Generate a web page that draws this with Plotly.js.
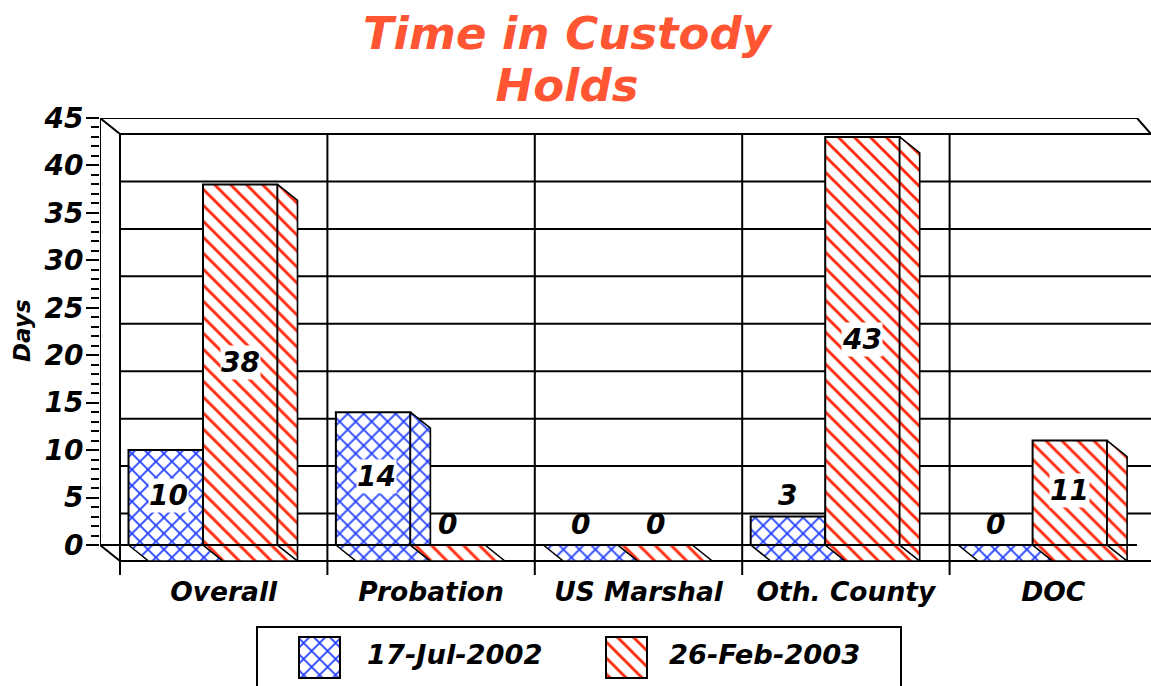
<!DOCTYPE html>
<html><head><meta charset="utf-8">
<script src="https://cdn.plot.ly/plotly-3.0.1.min.js"></script>
<style>html,body{margin:0;padding:0;background:#fff;overflow:hidden}#c{width:1151px;height:686px}</style>
</head><body><div id="c"></div>
<script>
const categories = ['Overall','Probation','US Marshal','Oth. County','DOC'];
const jul2002 = [10,14,0,3,0];
const feb2003 = [38,0,0,43,11];
const seriesNames = ['17-Jul-2002','26-Feb-2003'];
const yTicks = [0,5,10,15,20,25,30,35,40,45];
const yMinor = Array.from({length:46},(_,i)=>i).filter(v=>v%5);

const W=1151,H=686, GW=207.4, PXY=9.49;
const LEFT=100, WALL=120, RIGHT=1151, Y0=545, BOT=575;
const FF='"DejaVu Sans", sans-serif';
const BLUE='#1f3cff', RED='#ff2c10';
const gx=p=>(p-WALL)/GW;
const vy=p=>(Y0-p)/PXY;
const dX=20/GW, dY=16/PXY, inset=8.5/GW, bw=74.5/GW;
const pat=(s,c)=>({shape:s,fgcolor:c,bgcolor:'#fff',size:11.3,solidity:s==='x'?0.28:0.26,fillmode:'replace'});
const txt=(size)=>({family:FF,size:size,color:'#000',weight:700,style:'italic'});

const traces=[];
function bars(vals,off,color,shape,name){
  traces.push({type:'bar',name:name,x:vals.map((_,i)=>i+inset+off+bw/2),y:vals,width:vals.map(()=>bw),
    marker:{color:'#fff',pattern:pat(shape,color),line:{color:'#000',width:2}},hoverinfo:'skip',showlegend:false});
}
bars(jul2002,0,BLUE,'x',seriesNames[0]);
bars(feb2003,bw,RED,'\\',seriesNames[1]);

function poly(xs,ys,color,shape){
  traces.push({type:'scatter',mode:'lines',x:xs.concat(xs[0]),y:ys.concat(ys[0]),fill:'toself',fillcolor:'#fff',
    fillpattern:pat(shape,color),line:{color:'#000',width:1.6},hoverinfo:'skip',showlegend:false});
}
function floor(i,off,color,shape){
  const a=i+inset+off,b=a+bw;
  poly([a,b,b+dX,a+dX],[0,0,-dY,-dY],color,shape);
}
function side(i,off,v,color,shape){
  const b=i+inset+off+bw;
  poly([b,b+dX,b+dX,b],[v,v-dY,-dY,0],color,shape);
}
categories.forEach((_,i)=>{
  floor(i,0,BLUE,'x');
  if(jul2002[i]>feb2003[i]) side(i,0,jul2002[i],BLUE,'x');
  floor(i,bw,RED,'\\');
  if(feb2003[i]>0) side(i,bw,feb2003[i],RED,'\\');
});

function frame(xs,ys){
  traces.push({type:'scatter',mode:'lines',x:xs,y:ys,cliponaxis:false,line:{color:'#000',width:2},hoverinfo:'skip',showlegend:false});
}
const xL=gx(LEFT),xW=gx(WALL),xR=gx(RIGHT),xF=gx(1137);
frame([xL,xL],[0,45]);
frame([xL,xF,xR],[45,45,45-dY]);
frame([xL,xF],[0,0]);
frame([xL,xW],[45,45-dY]);
frame([xL,xW],[0,-dY]);

// legend swatches, on their own small axes
function swatch(px,color,shape,name){
  traces.push({type:'bar',name:name,xaxis:'x2',yaxis:'y2',x:[px+20.5],y:[41],base:[8],width:[41],
    marker:{color:'#fff',pattern:pat(shape,color),line:{color:'#000',width:2}},hoverinfo:'skip',showlegend:false});
}
swatch(299,BLUE,'x',seriesNames[0]);
swatch(606,RED,'\\',seriesNames[1]);

const shapes=[];
yTicks.forEach(t=>shapes.push({type:'line',layer:'below',xref:'x',yref:'y',x0:xW,x1:xR,y0:t-dY,y1:t-dY,line:{color:'#000',width:2}}));
categories.forEach((_,i)=>shapes.push({type:'line',layer:'below',xref:'x',yref:'y',x0:i,x1:i,y0:vy(BOT),y1:45-dY,line:{color:'#000',width:2}}));
shapes.push({type:'path',layer:'above',xref:'paper',yref:'paper',
  path:`M${257/W},-0.05 L${257/W},${(H-627)/H} L${901/W},${(H-627)/H} L${901/W},-0.05`,line:{color:'#000',width:2}});

const annotations=[];
function label(x,v,outside,shift){
  annotations.push({x:x,y:outside?v+2.2:v/2+0.2,xref:'x',yref:'y',xshift:shift,text:String(v),showarrow:false,
    font:txt(28),bgcolor:outside?'rgba(255,255,255,0)':'#fff',borderpad:0,xanchor:'center',yanchor:'middle'});
}
categories.forEach((_,i)=>{
  const a=i+inset+bw/2,b=a+bw;
  label(a,jul2002[i],jul2002[i]<5,jul2002[i]<5?0:3);
  label(b,feb2003[i],feb2003[i]<5,0);
});
annotations.push({xref:'paper',yref:'paper',x:22/W,y:(H-331)/H,text:'Days',textangle:-90,showarrow:false,font:txt(23),xanchor:'center',yanchor:'middle'});
[[365,seriesNames[0]],[667,seriesNames[1]]].forEach(([px,t])=>annotations.push({xref:'paper',yref:'paper',x:px/W,y:(H-654)/H,
  text:t,showarrow:false,font:txt(27.3),xanchor:'left',yanchor:'middle'}));

const layout={
  width:W,height:H,margin:{l:0,r:0,t:0,b:0},paper_bgcolor:'#fff',plot_bgcolor:'rgba(0,0,0,0)',showlegend:false,barmode:'overlay',
  title:{text:'<span style="font-size:45px">Time in Custody</span><br><span style="font-size:45px">Holds</span>',x:567/W,xanchor:'center',xref:'paper',y:1-49/H,yanchor:'top',
    font:{family:FF,size:40,color:'#ff5533',weight:700,style:'italic'},pad:{t:0}},
  xaxis:{domain:[LEFT/W,1],range:[xL,xR],tickmode:'array',tickvals:categories.map((_,i)=>i+0.5),ticktext:categories,
    ticks:'',showgrid:false,zeroline:false,showline:false,tickfont:txt(26.5),ticklabelstandoff:-2,anchor:'y'},
  yaxis:{domain:[(H-BOT)/H,(H-118)/H],range:[vy(BOT),45],tickmode:'array',tickvals:yTicks,ticktext:yTicks.map(String),
    ticks:'outside',ticklen:13,tickwidth:2,tickcolor:'#000',showgrid:false,zeroline:false,showline:false,tickfont:txt(28),anchor:'x',ticklabelstandoff:-3,
    minor:{tickmode:'array',tickvals:yMinor,ticks:'outside',ticklen:8,tickwidth:2,tickcolor:'#000',showgrid:false}},
  xaxis2:{domain:[0,1],range:[0,W],visible:false,anchor:'y2'},
  yaxis2:{domain:[0,(H-627)/H],range:[0,H-627],visible:false,anchor:'x2'},
  shapes:shapes,annotations:annotations
};
Plotly.newPlot('c',traces,layout,{displayModeBar:false,staticPlot:true});
</script></body></html>
